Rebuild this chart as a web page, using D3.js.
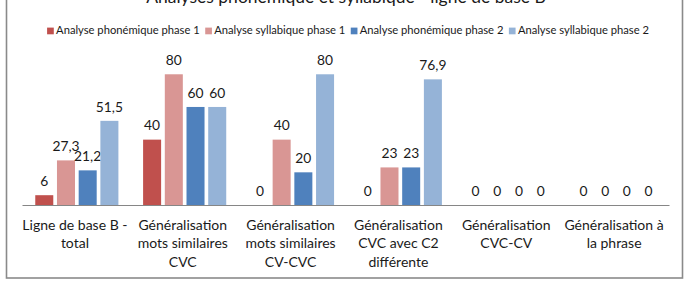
<!DOCTYPE html>
<html>
<head>
<meta charset="utf-8">
<script src="https://cdn.jsdelivr.net/npm/d3@7"></script>
<style>
  html, body { margin: 0; padding: 0; background: #fff; }
  svg { display: block; }
  text { font-family: Lato, "Liberation Sans", sans-serif; fill: #1a1a1a; }
</style>
</head>
<body>
<svg id="chart" width="686" height="281"></svg>
<script>
const title = "Analyses phonémique et syllabique - ligne de base B";
const categories = [
  "Ligne de base B -\ntotal",
  "Généralisation\nmots similaires\nCVC",
  "Généralisation\nmots similaires\nCV-CVC",
  "Généralisation\nCVC avec C2\ndifférente",
  "Généralisation\nCVC-CV",
  "Généralisation à\nla phrase"
];
const seriesNames = [
  "Analyse phonémique phase 1",
  "Analyse syllabique phase 1",
  "Analyse phonémique phase 2",
  "Analyse syllabique phase 2"
];
const phonemiquePhase1 = [6, 40, 0, 0, 0, 0];
const syllabiquePhase1 = [27.3, 80, 40, 23, 0, 0];
const phonemiquePhase2 = [21.2, 60, 20, 23, 0, 0];
const syllabiquePhase2 = [51.5, 60, 80, 76.9, 0, 0];
const seriesColors = ["#C0504D", "#D99694", "#4F81BD", "#95B3D7"];
const yDomain = [0, 100];

const seriesValues = [phonemiquePhase1, syllabiquePhase1, phonemiquePhase2, syllabiquePhase2];
const fmt = v => String(v).replace(".", ",");

const svg = d3.select("#chart");

// frame
svg.append("rect")
  .attr("x", 6.5).attr("y", -20).attr("width", 676).attr("height", 298)
  .attr("fill", "#fff").attr("stroke", "#8a8a8a").attr("stroke-width", 1.6);

// title (partially cropped at top, as in the reference)
svg.append("text")
  .attr("x", 346).attr("y", 2.5)
  .attr("text-anchor", "middle")
  .style("font-size", "17.5px")
  .text(title);

const plot = { left: 22, right: 669, top: 41.6, bottom: 205 };

const x0 = d3.scaleBand().domain(categories).range([plot.left, plot.right]).paddingInner(0).paddingOuter(0);
const bw0 = x0.bandwidth();
const x1 = d3.scaleBand().domain(seriesNames)
  .range([bw0 * 0.123, bw0 * 0.894]).paddingInner(0.17).paddingOuter(0);
const y = d3.scaleLinear().domain(yDomain).range([plot.bottom, plot.top]);

// bars
const groups = svg.append("g").selectAll("g")
  .data(seriesNames.map((name, i) => ({ name, color: seriesColors[i], values: seriesValues[i] })))
  .join("g").attr("fill", d => d.color);

groups.selectAll("rect")
  .data(d => d.values.map((v, j) => ({ name: d.name, cat: categories[j], v })))
  .join("rect")
  .attr("x", d => x0(d.cat) + x1(d.name))
  .attr("width", x1.bandwidth())
  .attr("y", d => y(d.v))
  .attr("height", d => y(0) - y(d.v));

// data labels
groups.selectAll("text")
  .data(d => d.values.map((v, j) => ({ name: d.name, cat: categories[j], v })))
  .join("text")
  .attr("x", d => x0(d.cat) + x1(d.name) + x1.bandwidth() / 2)
  .attr("y", d => y(d.v) - 9.3)
  .attr("text-anchor", "middle")
  .style("font-size", "13.8px")
  .text(d => fmt(d.v));

// x axis
const xAxis = svg.append("g").attr("transform", `translate(0,${plot.bottom})`)
  .call(d3.axisBottom(x0).tickSize(0).tickFormat(""));
xAxis.select(".domain").attr("stroke", "#868686").attr("stroke-width", 1.2);

// category labels
const catG = svg.append("g");
categories.forEach(c => {
  const lines = c.split("\n");
  const t = catG.append("text")
    .attr("text-anchor", "middle")
    .style("font-size", "14px");
  lines.forEach((ln, k) => {
    t.append("tspan")
      .attr("x", x0(c) + bw0 / 2 - 1)
      .attr("y", 229.5 + k * 18.5)
      .text(ln);
  });
});

// legend
const legend = svg.append("g");
let cx = 0;
seriesNames.forEach((name, i) => {
  const g = legend.append("g");
  g.append("rect").attr("x", 0).attr("y", -6.7).attr("width", 6.7).attr("height", 6.7).attr("fill", seriesColors[i]);
  const t = g.append("text").attr("x", 9).attr("y", 0).style("font-size", "11.2px").text(name);
  const w = 9 + t.node().getComputedTextLength();
  g.attr("transform", `translate(${cx},34.3)`);
  cx += w + 5.5;
});
const totalW = cx - 5.5;
legend.attr("transform", `translate(${348 - totalW / 2},0)`);
</script>
</body>
</html>
